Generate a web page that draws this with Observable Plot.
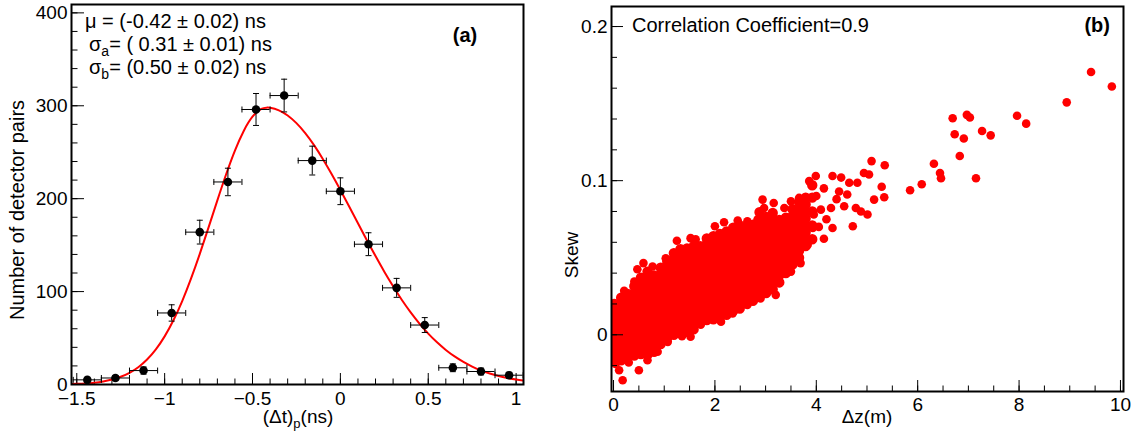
<!DOCTYPE html>
<html><head><meta charset="utf-8">
<script src="https://cdn.jsdelivr.net/npm/d3@7"></script>
<script src="https://cdn.jsdelivr.net/npm/@observablehq/plot@0.6"></script>
<style>
body{margin:0;background:#fff;}
#wrap{position:relative;width:1135px;height:436px;overflow:hidden;background:#fff;}
#wrap svg{position:absolute;top:0;}
</style></head><body><div id="wrap"></div>
<script>
// ---------- Panel (a) data ----------
const dtBins = [-1.44, -1.28, -1.12, -0.96, -0.80, -0.64, -0.48, -0.32, -0.16, 0.00, 0.16, 0.32, 0.48, 0.64, 0.80, 0.96];
const pairCounts = [5, 7, 15, 77, 164, 218, 296, 311, 241, 208, 151, 104, 64, 18, 14, 10];
const countErrors = [2.2, 2.6, 3.9, 8.8, 12.8, 14.8, 17.2, 17.6, 15.5, 14.4, 12.3, 10.2, 8.0, 4.2, 3.7, 3.2];
const binHalfWidth = 0.08;
// fitted curve
const fitDt = [-1.53, -1.50, -1.45, -1.40, -1.35, -1.30, -1.25, -1.20, -1.15, -1.10, -1.05, -1.00, -0.95, -0.90, -0.85, -0.80, -0.75, -0.70, -0.65, -0.60, -0.55, -0.50, -0.45, -0.42, -0.40, -0.35, -0.30, -0.25, -0.20, -0.15, -0.10, -0.05, 0.00, 0.05, 0.10, 0.15, 0.20, 0.25, 0.30, 0.35, 0.40, 0.45, 0.50, 0.55, 0.60, 0.65, 0.70, 0.75, 0.80, 0.85, 0.90, 0.95, 1.00, 1.04];
const fitCounts = [0.5, 0.7, 1.2, 2.0, 3.3, 5.3, 8.3, 12.6, 18.6, 26.9, 37.8, 51.8, 69.1, 89.8, 113.9, 140.6, 169.1, 198.2, 226.3, 251.8, 272.9, 288.2, 296.6, 298, 297.8, 295.1, 289.5, 281.3, 270.5, 257.6, 242.8, 226.6, 209.4, 191.6, 173.5, 155.6, 138.2, 121.4, 105.7, 91.0, 77.7, 65.6, 54.8, 45.4, 37.2, 30.2, 24.3, 19.3, 15.2, 11.8, 9.1, 7.0, 5.3, 4.2];
const xTicksA = [-1.5, -1, -0.5, 0, 0.5, 1];
const yTicksA = [0, 100, 200, 300, 400];

// ---------- Panel (b) data ----------
// dense core, read as columns of Δz with the Skew values covering the cloud
const coreDz = [0.02, 0.15, 0.28, 0.41, 0.54, 0.67, 0.80, 0.93, 1.06, 1.19, 1.32, 1.45, 1.58, 1.71, 1.84, 1.97, 2.10, 2.23, 2.36, 2.49, 2.62, 2.75, 2.88, 3.01, 3.14, 3.27, 3.40, 3.53, 3.66, 3.79, 3.92];
const coreSkew = [
  [-0.016, -0.0115, -0.007, -0.0025, 0.002, 0.0065, 0.011, 0.0155, 0.020],
  [-0.0165, -0.012, -0.0075, -0.003, 0.0015, 0.006, 0.0105, 0.015, 0.0195, 0.024],
  [-0.014, -0.0095, -0.005, -0.0005, 0.004, 0.0085, 0.013, 0.0175, 0.022, 0.0265],
  [-0.0135, -0.009, -0.0045, 0.0, 0.0045, 0.009, 0.0135, 0.018, 0.0225, 0.027, 0.0315],
  [-0.0125, -0.008, -0.0035, 0.001, 0.0055, 0.010, 0.0145, 0.019, 0.0235, 0.028, 0.0325, 0.037],
  [-0.013, -0.0085, -0.004, 0.0005, 0.005, 0.0095, 0.014, 0.0185, 0.023, 0.0275, 0.032, 0.0365, 0.041],
  [-0.011, -0.0065, -0.002, 0.0025, 0.007, 0.0115, 0.016, 0.0205, 0.025, 0.0295, 0.034, 0.0385],
  [-0.006, -0.0015, 0.003, 0.0075, 0.012, 0.0165, 0.021, 0.0255, 0.030, 0.0345, 0.039, 0.0435],
  [-0.002, 0.0025, 0.007, 0.0115, 0.016, 0.0205, 0.025, 0.0295, 0.034, 0.0385, 0.043, 0.0475],
  [0.0, 0.0045, 0.009, 0.0135, 0.018, 0.0225, 0.027, 0.0315, 0.036, 0.0405, 0.045, 0.0495, 0.053],
  [0.0015, 0.006, 0.0105, 0.015, 0.0195, 0.024, 0.0285, 0.033, 0.0375, 0.042, 0.0465, 0.051, 0.0555],
  [0.002, 0.0065, 0.011, 0.0155, 0.020, 0.0245, 0.029, 0.0335, 0.038, 0.0425, 0.047, 0.0515, 0.056],
  [0.0035, 0.008, 0.0125, 0.017, 0.0215, 0.026, 0.0305, 0.035, 0.0395, 0.044, 0.0485, 0.053, 0.0575],
  [0.008, 0.0125, 0.017, 0.0215, 0.026, 0.0305, 0.035, 0.0395, 0.044, 0.0485, 0.053, 0.0575],
  [0.0095, 0.014, 0.0185, 0.023, 0.0275, 0.032, 0.0365, 0.041, 0.0455, 0.050, 0.0545, 0.059, 0.0625],
  [0.010, 0.0145, 0.019, 0.0235, 0.028, 0.0325, 0.037, 0.0415, 0.046, 0.0505, 0.055, 0.0595, 0.064],
  [0.0115, 0.016, 0.0205, 0.025, 0.0295, 0.034, 0.0385, 0.043, 0.0475, 0.052, 0.0565, 0.061, 0.0655],
  [0.013, 0.0175, 0.022, 0.0265, 0.031, 0.0355, 0.040, 0.0445, 0.049, 0.0535, 0.058, 0.0625, 0.067],
  [0.0155, 0.020, 0.0245, 0.029, 0.0335, 0.038, 0.0425, 0.047, 0.0515, 0.056, 0.0605, 0.065, 0.0695],
  [0.017, 0.0215, 0.026, 0.0305, 0.035, 0.0395, 0.044, 0.0485, 0.053, 0.0575, 0.062, 0.0665, 0.071],
  [0.0205, 0.025, 0.0295, 0.034, 0.0385, 0.043, 0.0475, 0.052, 0.0565, 0.061, 0.0655, 0.070],
  [0.022, 0.0265, 0.031, 0.0355, 0.040, 0.0445, 0.049, 0.0535, 0.058, 0.0625, 0.067, 0.0715],
  [0.0255, 0.030, 0.0345, 0.039, 0.0435, 0.048, 0.0525, 0.057, 0.0615, 0.066, 0.0705, 0.075, 0.0795],
  [0.027, 0.0315, 0.036, 0.0405, 0.045, 0.0495, 0.054, 0.0585, 0.063, 0.0675, 0.072, 0.0765],
  [0.0295, 0.034, 0.0385, 0.043, 0.0475, 0.052, 0.0565, 0.061, 0.0655, 0.070, 0.0745, 0.079],
  [0.034, 0.0385, 0.043, 0.0475, 0.052, 0.0565, 0.061, 0.0655, 0.070, 0.0745],
  [0.040, 0.0445, 0.049, 0.0535, 0.058, 0.0625, 0.067, 0.0715, 0.076],
  [0.0455, 0.050, 0.0545, 0.059, 0.0635, 0.068, 0.0725, 0.077, 0.0815],
  [0.050, 0.0545, 0.059, 0.0635, 0.068, 0.0725, 0.077, 0.0815, 0.086],
  [0.0575, 0.062, 0.0665, 0.071, 0.0755, 0.080, 0.0845, 0.089],
  [0.062, 0.071, 0.080, 0.089, 0.097]
];
// individually visible points (edges of the cloud and the sparse tail)
const sparseDz = [0.18, 0.11, 0.50, 0.67, 0.87, 1.07, 1.52, 0.04, 0.30, 1.35, 1.72, 2.12, 2.35, 2.64, 2.90, 3.20, 3.27, 3.50, 3.69, 3.83, 4.15, 4.32, 3.93,
  0.21, 0.41, 0.47, 0.59, 0.77, 1.03, 1.25, 1.52, 1.62, 2.00, 2.18, 2.45, 2.64, 2.84, 2.94, 2.97, 3.16, 3.37, 3.50, 3.66, 3.73, 3.86, 3.99,
  4.32, 4.49, 4.65, 4.81, 4.94, 5.04, 5.09, 5.35, 5.29, 5.34, 5.14, 5.01, 4.72, 4.45, 4.61, 4.55, 4.78, 4.88, 4.29, 4.09, 4.00, 4.15, 4.20, 3.95, 4.05, 4.40,
  5.85, 6.08, 6.32, 6.44, 6.46, 6.83, 7.15, 6.69, 6.97, 7.03, 6.73, 7.27, 7.44, 6.91, 7.96, 8.14, 8.94, 9.42, 9.83];
const sparseSkew = [-0.0295, -0.023, -0.023, -0.0165, -0.011, -0.0046, -0.0013, -0.019, -0.018, -0.001, 0.0065, 0.0085, 0.0139, 0.0193, 0.0236, 0.0259, 0.0334, 0.041, 0.0465, 0.0584, 0.0623, 0.0693, 0.0693,
  0.0285, 0.0345, 0.0425, 0.0465, 0.0443, 0.0497, 0.061, 0.0627, 0.062, 0.0704, 0.073, 0.0741, 0.0736, 0.0747, 0.0877, 0.0823, 0.0855, 0.0823, 0.0866, 0.0888, 0.0812, 0.0997, 0.103,
  0.103, 0.102, 0.0986, 0.0986, 0.105, 0.104, 0.1127, 0.110, 0.096, 0.0892, 0.0877, 0.078, 0.0704, 0.093, 0.091, 0.0834, 0.0823, 0.080, 0.0823, 0.0812, 0.090, 0.095, 0.075, 0.078, 0.070, 0.088,
  0.0938, 0.0977, 0.111, 0.105, 0.1016, 0.116, 0.1016, 0.1405, 0.1427, 0.141, 0.1301, 0.1322, 0.1294, 0.1274, 0.1421, 0.137, 0.1508, 0.1705, 0.1611];
const xTicksB = [0, 2, 4, 6, 8, 10];
const yTicksB = [0, 0.1, 0.2];

// ---------- helpers ----------
const FONT = "'Liberation Sans', Arial, Helvetica, sans-serif";
const fmt = d => (d < 0 ? "\u2212" : "") + Math.abs(d);
const hCap = {draw(ctx, size) { const r = Math.sqrt(size / Math.PI); ctx.moveTo(-r, 0); ctx.lineTo(r, 0); }};
const vCap = {draw(ctx, size) { const r = Math.sqrt(size / Math.PI); ctx.moveTo(0, -r); ctx.lineTo(0, r); }};
const wrap = document.getElementById("wrap");

// ---------- Panel (a) ----------
const A = {w: 560, h: 436, ml: 71, mr: 37, mt: 4, mb: 52};
const aInnerW = A.w - A.ml - A.mr, aInnerH = A.h - A.mt - A.mb;
const histRows = dtBins.map((x, i) => ({dt: x, n: pairCounts[i], err: countErrors[i]}));
const fitRows = fitDt.map((x, i) => ({dt: x, n: fitCounts[i]}));
const minorXA = d3.range(-15, 11).map(k => k / 10);
const minorYA = d3.range(0, 401, 20);

const left = Plot.plot({
  width: A.w, height: A.h, marginLeft: A.ml, marginRight: A.mr, marginTop: A.mt, marginBottom: A.mb,
  x: {domain: [-1.53, 1.042]},
  y: {domain: [0, 409]},
  style: {fontFamily: FONT, fontSize: "19px", color: "black", background: "white", overflow: "visible"},
  marks: [
    Plot.tickX(minorXA, {x: d => d, insetTop: aInnerH - 5.5, stroke: "black", strokeWidth: 1}),
    Plot.tickX(xTicksA, {x: d => d, insetTop: aInnerH - 11, stroke: "black", strokeWidth: 1}),
    Plot.tickY(minorYA, {y: d => d, insetRight: aInnerW - 6.5, stroke: "black", strokeWidth: 1}),
    Plot.tickY(yTicksA, {y: d => d, insetRight: aInnerW - 13, stroke: "black", strokeWidth: 1}),
    Plot.axisX({ticks: xTicksA, tickSize: 0, tickPadding: 7, tickFormat: fmt, label: null}),
    Plot.axisY({ticks: yTicksA, tickSize: 0, tickPadding: 4, tickFormat: fmt, label: null}),
    Plot.line(fitRows, {x: "dt", y: "n", stroke: "#ff0000", strokeWidth: 2, curve: "natural", clip: true}),
    Plot.ruleY(histRows, {y: "n", x1: d => d.dt - binHalfWidth, x2: d => d.dt + binHalfWidth, stroke: "black", strokeWidth: 1, clip: true}),
    Plot.ruleX(histRows, {x: "dt", y1: d => d.n - d.err, y2: d => d.n + d.err, stroke: "black", strokeWidth: 1}),
    Plot.dot(histRows, {x: "dt", y: d => d.n + d.err, symbol: hCap, r: 3, stroke: "black", fill: "none", strokeWidth: 1}),
    Plot.dot(histRows, {x: "dt", y: d => Math.max(0, d.n - d.err), symbol: hCap, r: 3, stroke: "black", fill: "none", strokeWidth: 1}),
    Plot.dot(histRows, {x: d => d.dt - binHalfWidth, y: "n", symbol: vCap, r: 3, stroke: "black", fill: "none", strokeWidth: 1, clip: true}),
    Plot.dot(histRows, {x: d => d.dt + binHalfWidth, y: "n", symbol: vCap, r: 3, stroke: "black", fill: "none", strokeWidth: 1}),
    Plot.dot(histRows, {x: "dt", y: "n", r: 4.3, fill: "black", stroke: "none"}),
    Plot.frame({stroke: "black", strokeWidth: 2})
  ]
});
left.style.left = "0px";
wrap.appendChild(left);

// ---------- Panel (b) ----------
const B = {w: 575, h: 436, ml: 51, mr: 12, mt: 6, mb: 45};
const bInnerW = B.w - B.ml - B.mr, bInnerH = B.h - B.mt - B.mb;
const coreRows = coreDz.flatMap((x, i) => coreSkew[i].map(y => ({dz: x, skew: y})));
const sparseRows = sparseDz.map((x, i) => ({dz: x, skew: sparseSkew[i]}));
const minorXB = d3.range(0, 21).map(k => k / 2);
const minorYB = d3.range(-1, 11).map(k => k / 50);

const right = Plot.plot({
  width: B.w, height: B.h, marginLeft: B.ml, marginRight: B.mr, marginTop: B.mt, marginBottom: B.mb,
  x: {domain: [-0.04, 10.06]},
  y: {domain: [-0.0368, 0.213]},
  style: {fontFamily: FONT, fontSize: "19px", color: "black", background: "white", overflow: "visible"},
  marks: [
    // the core stands for thousands of overlapping markers, so it is drawn as a solid mass
    Plot.dot(coreRows, {x: "dz", y: "skew", r: 4.3, fill: "#ff0000", stroke: "#ff0000", strokeWidth: 1.8, clip: true}),
    Plot.dot(sparseRows, {x: "dz", y: "skew", r: 4.3, fill: "#ff0000", stroke: "none", clip: true}),
    Plot.tickX(minorXB, {x: d => d, insetTop: bInnerH - 5.5, stroke: "black", strokeWidth: 1}),
    Plot.tickX(xTicksB, {x: d => d, insetTop: bInnerH - 11, stroke: "black", strokeWidth: 1}),
    Plot.tickY(minorYB, {y: d => d, insetRight: bInnerW - 6, stroke: "black", strokeWidth: 1}),
    Plot.tickY(yTicksB, {y: d => d, insetRight: bInnerW - 12, stroke: "black", strokeWidth: 1}),
    Plot.axisX({ticks: xTicksB, tickSize: 0, tickPadding: 6, tickFormat: fmt, label: null}),
    Plot.axisY({ticks: yTicksB, tickSize: 0, tickPadding: 4, tickFormat: fmt, label: null}),
    Plot.frame({stroke: "black", strokeWidth: 2})
  ]
});
right.style.left = "560px";
wrap.appendChild(right);

// ---------- text annotations ----------
function subText(sel, x, y, parts, anchor, size) {
  const fs = size || 20;
  const t = sel.append("text").attr("x", x).attr("y", y).attr("text-anchor", anchor || "start")
    .attr("font-family", FONT).attr("font-size", fs).attr("fill", "black").style("white-space", "pre");
  parts.forEach(([s, sub]) => {
    const ts = t.append("tspan").text(s);
    if (sub === 1) ts.attr("font-size", Math.round(fs * 0.68)).attr("dy", 5);
    if (sub === -1) ts.attr("dy", -5);
  });
  return t;
}
const LA = d3.select(left), RB = d3.select(right);
subText(LA, 85, 28, [["\u03bc = (-0.42 \u00b1 0.02) ns", 0]]);
subText(LA, 89, 51, [["\u03c3", 0], ["a", 1], ["= ( 0.31 \u00b1 0.01) ns", -1]]);
subText(LA, 89, 74, [["\u03c3", 0], ["b", 1], ["= (0.50 \u00b1 0.02) ns", -1]]);
subText(LA, 465, 42, [["(a)", 0]], "middle").attr("font-weight", "bold");
subText(LA, 298, 423, [["(\u0394t)", 0], ["p", 1], ["(ns)", -1]], "middle", 19);
subText(LA, 0, 0, [["Number of detector pairs", 0]], "middle", 20).attr("transform", "translate(24,210) rotate(-90)");

subText(RB, 72, 32, [["Correlation Coefficient=0.9", 0]]);
subText(RB, 550, 32, [["(b)", 0]], "end").attr("font-weight", "bold");
subText(RB, 307, 423, [["\u0394z(m)", 0]], "middle", 19);
subText(RB, 0, 0, [["Skew", 0]], "middle", 19).attr("transform", "translate(18,255) rotate(-90)");
</script></body></html>
